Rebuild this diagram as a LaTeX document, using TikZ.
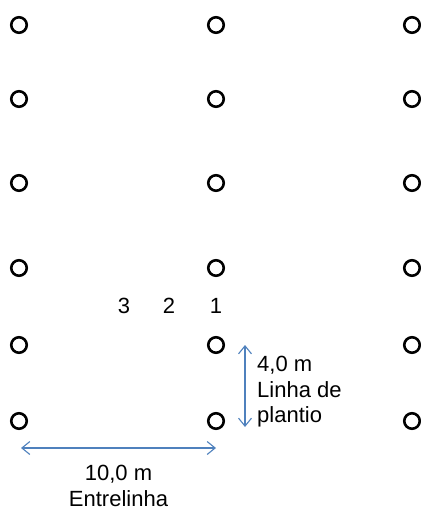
\documentclass[tikz,border=0pt]{standalone}
\usepackage{fontspec}
\setmainfont{Liberation Sans}
\usetikzlibrary{arrows.meta,positioning,calc}
\definecolor{cInk}{HTML}{000000}
\definecolor{cArrow}{HTML}{4F81BD}
\tikzset{
  plant/.style={circle, draw=cInk, line width=2.6pt, minimum size=15.5pt,
    inner sep=0pt},
  lbl/.style={font=\fontsize{22}{25.5}\selectfont, text=cInk, inner sep=0pt},
}
\begin{document}
\begin{tikzpicture}[
  x=1pt, y=-1pt,
  span/.style={{Straight Barb[length=8pt,width=13pt]}-{Straight Barb[length=8pt,width=13pt]},
    line width=1.1pt, cArrow},
]
\useasboundingbox (0,0) rectangle (420,510);
% plants: columns (planting lines) and rows
\foreach \c/\x in {1/19, 2/216, 3/412}
  \foreach \r/\y in {1/25, 2/99, 3/183, 4/268, 5/345, 6/421}
    \node[plant] (p-\c-\r) at (\x,\y) {};
% sampling positions
\node[lbl] (n1) at (216,306) {1};
\node[lbl] (n2) at (169,306) {2};
\node[lbl] (n3) at (124,306) {3};
% spacing between plants
\coordinate (vtop) at ($(p-2-5)+(29,0)$);
\coordinate (vbot) at ($(p-2-6)+(29,6)$);
\draw[span] (vtop) -- (vbot);
\node[lbl, align=left, anchor=west] (inrow) at (257,392) {4,0 m\\Linha de\\plantio};
% spacing between lines
\coordinate (hl) at ($(p-1-6)+(2,27)$);
\coordinate (hr) at ($(p-2-6)+(0,27)$);
\draw[span] (hl) -- (hr);
\node[lbl, align=center, below=17pt of $(hl)!0.5!(hr)$] (between) {10,0 m\\Entrelinha};
\end{tikzpicture}
\end{document}
